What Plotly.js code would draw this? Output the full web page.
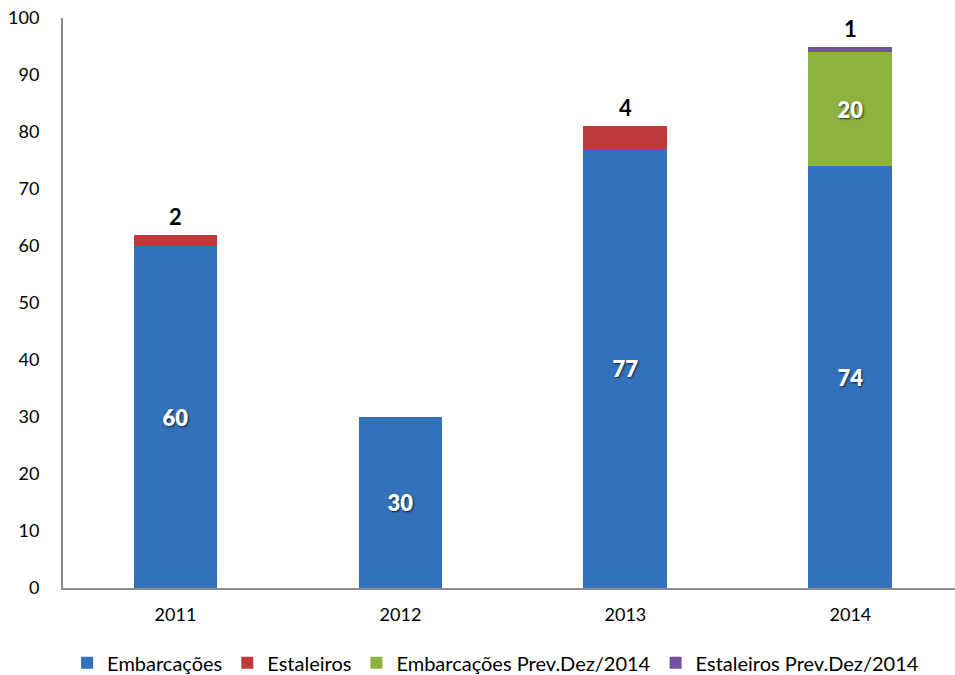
<!DOCTYPE html>
<html>
<head>
<meta charset="utf-8">
<script src="https://cdn.plot.ly/plotly-3.0.1.min.js"></script>
<style>html,body{margin:0;padding:0;background:#fff;}#chart{width:955px;height:675px;}</style>
</head>
<body>
<div id="chart"></div>
<script>
const years = ["2011", "2012", "2013", "2014"];
const embarcacoes = [60, 30, 77, 74];
const estaleiros = [2, null, 4, null];
const embarcacoesPrev = [null, null, null, 20];
const estaleirosPrev = [null, null, null, 1];
const seriesNames = ["Embarcações", "Estaleiros", "Embarcações Prev.Dez/2014", "Estaleiros Prev.Dez/2014"];
const yTicks = [0, 10, 20, 30, 40, 50, 60, 70, 80, 90, 100];

const font = "Lato, 'Open Sans', sans-serif";
const inFont = {family: font, size: 22, color: "#ffffff", weight: 800, shadow: "1px 1px 2px rgba(0,0,0,0.7)"};
const barW = 0.373;

function bar(name, vals, color, showText) {
  return {
    type: "bar", name: name, x: years, y: vals,
    marker: {color: color, line: {width: 0}},
    width: barW,
    text: showText ? vals.map(v => v == null ? "" : String(v)) : undefined,
    textposition: showText ? "inside" : "none",
    insidetextanchor: "middle",
    textfont: inFont,
    hoverinfo: "skip"
  };
}

const traces = [
  bar(seriesNames[0], embarcacoes, "#3471bb", true),
  bar(seriesNames[1], estaleiros, "#c0393a", false),
  bar(seriesNames[2], embarcacoesPrev, "#8db23f", true),
  bar(seriesNames[3], estaleirosPrev, "#7352a0", false)
];

const topFont = {family: font, size: 22, color: "#000", weight: 700};
const annotations = [];
years.forEach((yr, i) => {
  const base = (embarcacoes[i] || 0) + (estaleiros[i] || 0) + (embarcacoesPrev[i] || 0);
  if (estaleiros[i] != null) {
    annotations.push({xref: "x", yref: "y", x: i, y: base, text: "<b>" + estaleiros[i] + "</b>",
      showarrow: false, yanchor: "bottom", yshift: 3, font: topFont});
  }
  if (estaleirosPrev[i] != null) {
    annotations.push({xref: "x", yref: "y", x: i, y: base + estaleirosPrev[i], text: "<b>" + estaleirosPrev[i] + "</b>",
      showarrow: false, yanchor: "bottom", yshift: 3, font: topFont});
  }
});

const layout = {
  width: 955, height: 675,
  margin: {l: 63, r: 0, t: 18, b: 87},
  paper_bgcolor: "#fff", plot_bgcolor: "#fff",
  barmode: "stack",
  font: {family: font, size: 16, color: "#000"},
  xaxis: {
    type: "category", range: [-0.5, 3.465],
    showline: true, linecolor: "#8c8c8c", linewidth: 2,
    ticks: "", showgrid: false, zeroline: false,
    tickfont: {family: font, size: 18, color: "#000"},
    ticklabelstandoff: 9
  },
  yaxis: {
    range: [0, 100], tickvals: yTicks,
    showline: true, linecolor: "#8c8c8c", linewidth: 2,
    ticks: "", showgrid: false, zeroline: false,
    tickfont: {family: font, size: 18, color: "#000"},
    ticklabelstandoff: 18
  },
  legend: {
    orientation: "h", x: 0.485, xanchor: "center",
    yref: "container", y: 0.018, yanchor: "middle",
    font: {family: font, size: 20, color: "#000"},
    traceorder: "normal", itemwidth: 30
  },
  showlegend: true,
  annotations: annotations
};

Plotly.newPlot("chart", traces, layout, {displayModeBar: false, staticPlot: true});
</script>
</body>
</html>
